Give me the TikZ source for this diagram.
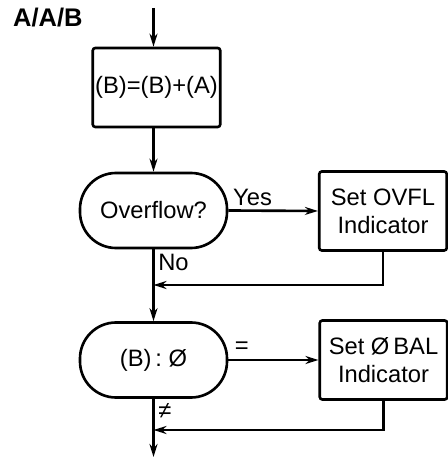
\documentclass[tikz,border=0pt]{standalone}
\usepackage{fontspec}
\setmainfont{Liberation Sans}
\usepackage{tikz}
\usetikzlibrary{arrows.meta,calc}
\usetikzlibrary{positioning}

\begin{document}
\begin{tikzpicture}[>={Stealth[length=2.6mm,width=1.6mm]},line width=1.5pt,
  font=\fontsize{13.5}{16}\selectfont,
  box/.style={draw,rounded corners=1.5pt,minimum width=2.55cm,minimum height=1.58cm,align=center,inner sep=1pt},
  oval/.style={draw,rounded corners=0.72cm,minimum width=2.94cm,minimum height=1.5cm,inner sep=1pt}]
\useasboundingbox (0,0) rectangle (8.96,9.32);
% heading
\node[anchor=west,font=\fontsize{14.5}{16}\selectfont\bfseries] (hdr) at (0.12,8.96) {A/A/B};
% main column
\coordinate (top) at (3.07,9.16);
\node[box] (add) at (3.13,7.57) {(B)=(B)+(A)};
\node[oval] (ovf) at (3.07,5.11) {Overflow?};
\node[box] (setovfl) at (7.66,5.10) {Set OVFL\\Indicator};
\node[oval] (cmp) at (3.07,2.12) {(B)\,:\;Ø};
\node[box] (setbal) at (7.67,2.12) {Set Ø\,BAL\\Indicator};
% joins on the trunk
\coordinate (j1) at (3.07,3.62);
\coordinate (j2) at (3.07,0.72);
\coordinate (out) at (3.07,0.18);
% flow
\draw[->] (top) -- (top |- add.north);
\draw[->] (ovf.north |- add.south) -- (ovf.north);
\draw[->] (ovf.east) -- (setovfl.west) node[pos=0,above right,inner sep=2pt] {Yes};
\draw[->] (ovf.south) -- (cmp.north) node[pos=0,below right,inner sep=2pt] {No};
\draw[->] (setovfl.south) |- (j1);
\draw[->] (cmp.east) -- (setbal.west) node[pos=0,above right,inner sep=3pt] {=};
\draw[->] (cmp.south) -- (out) node[pos=0,below right,inner sep=2pt] {≠};
\draw[->] (setbal.south) |- (j2);
\end{tikzpicture}
\end{document}
